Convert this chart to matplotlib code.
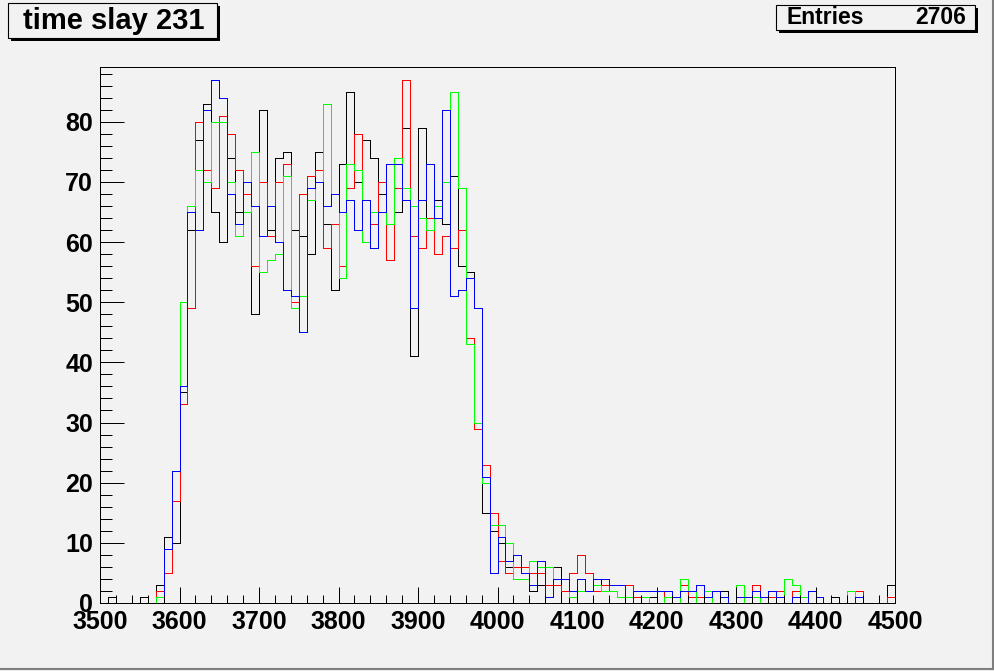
import numpy as np
import matplotlib
matplotlib.use("Agg")
import matplotlib.pyplot as plt
from matplotlib.patches import Rectangle
from matplotlib.lines import Line2D

plt.rcParams['font.family'] = ['Liberation Sans', 'DejaVu Sans']
plt.rcParams['font.weight'] = 'bold'

# histogram binning (ROOT TH1: 100 bins, 3500..4500)
x_lo, x_hi, bin_w = 3500, 4500, 10

# bin contents, one value per 10-unit bin
black = [0, 1, 0, 0, 0, 1, 0, 3, 11, 10,
         35, 62, 77, 83, 65, 60, 74, 65, 65, 48,
         82, 62, 74, 75, 62, 61, 58, 75, 63, 52,
         73, 85, 70, 77, 74, 68, 73, 65, 79, 41,
         79, 64, 67, 63, 71, 56, 55, 49, 15, 12,
         10, 6, 6, 6, 2, 3, 6, 6, 0, 2,
         2, 2, 4, 3, 3, 3, 1, 0, 0, 1,
         0, 0, 0, 0, 0, 0, 0, 2, 2, 0,
         0, 0, 0, 1, 1, 0, 0, 0, 0, 0,
         0, 0, 1, 0, 0, 0, 0, 0, 0, 3]

red = [0, 0, 0, 0, 0, 0, 0, 2, 5, 17,
       33, 49, 80, 72, 69, 81, 78, 72, 68, 56,
       70, 61, 70, 73, 50, 68, 71, 72, 59, 63,
       56, 69, 78, 67, 63, 70, 57, 69, 87, 61,
       59, 64, 58, 61, 59, 62, 44, 29, 23, 15,
       7, 5, 6, 6, 5, 5, 3, 3, 2, 5,
       8, 5, 2, 3, 2, 1, 3, 1, 0, 0,
       2, 1, 0, 3, 1, 1, 0, 0, 1, 0,
       0, 0, 3, 0, 1, 2, 0, 2, 0, 0,
       0, 0, 0, 0, 0, 2, 0, 0, 0, 1]

green = [0, 0, 0, 0, 0, 0, 0, 1, 9, 22,
         50, 66, 72, 70, 80, 80, 70, 61, 65, 75,
         55, 57, 58, 71, 49, 51, 67, 70, 83, 68,
         54, 73, 72, 60, 65, 65, 63, 74, 69, 66,
         64, 62, 66, 70, 85, 69, 43, 30, 20, 13,
         13, 10, 4, 4, 7, 6, 6, 4, 4, 1,
         2, 2, 3, 2, 2, 1, 1, 0, 1, 0,
         0, 1, 0, 4, 2, 0, 2, 0, 0, 0,
         3, 0, 1, 0, 0, 0, 4, 3, 1, 0,
         0, 0, 0, 0, 2, 0, 0, 0, 0, 0]

blue = [0, 0, 0, 0, 0, 0, 0, 0, 9, 22,
        36, 65, 62, 82, 87, 84, 68, 63, 70, 66,
        61, 66, 60, 52, 51, 45, 69, 70, 66, 68,
        65, 67, 62, 67, 59, 65, 73, 73, 67, 49,
        67, 73, 64, 82, 51, 52, 54, 49, 21, 5,
        11, 7, 8, 5, 3, 7, 1, 4, 4, 2,
        4, 2, 4, 4, 3, 3, 0, 2, 2, 2,
        2, 2, 1, 2, 2, 3, 1, 2, 1, 0,
        1, 1, 2, 1, 2, 1, 0, 1, 0, 2,
        1, 0, 0, 0, 0, 1, 0, 0, 0, 0]

title = "time slay 231"
entries = 2706

W, H = 995, 671
bg = '#f2f2f2'
fig = plt.figure(figsize=(W / 100, H / 100), dpi=100, facecolor=bg)

# pad frame in pixels: x 100..895, y 67..603
ax = fig.add_axes([100 / W, 1 - 603 / H, 795 / W, (603 - 67) / H])
ax.set_facecolor(bg)

edges = np.arange(x_lo, x_hi + bin_w, bin_w)
for vals, col in [(black, '#000000'), (red, '#ff0000'), (green, '#00ff00'), (blue, '#0000ff')]:
    st = ax.stairs(vals, edges, color=col, linewidth=0.72)
    st.set_antialiased(False)

ax.set_xlim(x_lo, x_hi)
ax.set_ylim(0, 89.1)
ax.set_xticks(np.arange(3500, 4501, 100))
ax.set_xticks(np.arange(3500, 4501, 20), minor=True)
ax.set_yticks(np.arange(0, 81, 10))
ax.set_yticks(np.arange(0, 89, 2), minor=True)

ax.tick_params(axis='x', which='major', direction='in', length=11.5, width=0.72,
               labelsize=18, pad=5, top=False)
ax.tick_params(axis='x', which='minor', direction='in', length=5.8, width=0.72, top=False)
ax.tick_params(axis='y', which='major', direction='in', length=17.3, width=0.72,
               labelsize=18, pad=5, right=False)
ax.tick_params(axis='y', which='minor', direction='in', length=8.6, width=0.72, right=False)
for lab in ax.get_xticklabels() + ax.get_yticklabels():
    lab.set_fontweight('bold')
for sp in ax.spines.values():
    sp.set_linewidth(0.72)
    sp.set_color('black')


def fx(x):
    return x / W


def fy(y):
    return 1 - y / H


def box(x0, y0, x1, y1):
    # ROOT style pave with drop shadow
    fig.patches.append(Rectangle((fx(x0 + 3), fy(y1 + 3)), fx(x1 - x0), (y1 - y0) / H,
                                 transform=fig.transFigure, facecolor='black',
                                 edgecolor='none', zorder=1))
    fig.patches.append(Rectangle((fx(x0), fy(y1)), fx(x1 - x0), (y1 - y0) / H,
                                 transform=fig.transFigure, facecolor=bg,
                                 edgecolor='black', linewidth=0.8, zorder=2))


box(8, 3, 217, 38)
fig.text(fx(114), fy(21), title, ha='center', va='center', fontsize=21,
         fontweight='bold', zorder=3)

box(776, 5, 975, 30)
fig.text(fx(787), fy(18), "Entries", ha='left', va='center', fontsize=16.5,
         fontweight='bold', zorder=3)
fig.text(fx(966), fy(18), str(entries), ha='right', va='center', fontsize=16.5,
         fontweight='bold', zorder=3)

# canvas bevel: dark right and bottom edges
fig.lines.append(Line2D([fx(993.5), fx(993.5)], [fy(0), fy(669)], transform=fig.transFigure,
                        color='#7f7f7f', linewidth=1.5))
fig.lines.append(Line2D([fx(0), fx(994)], [fy(668.5), fy(668.5)], transform=fig.transFigure,
                        color='#7f7f7f', linewidth=1.5))

fig.savefig("out.png", dpi=100, facecolor=bg)
